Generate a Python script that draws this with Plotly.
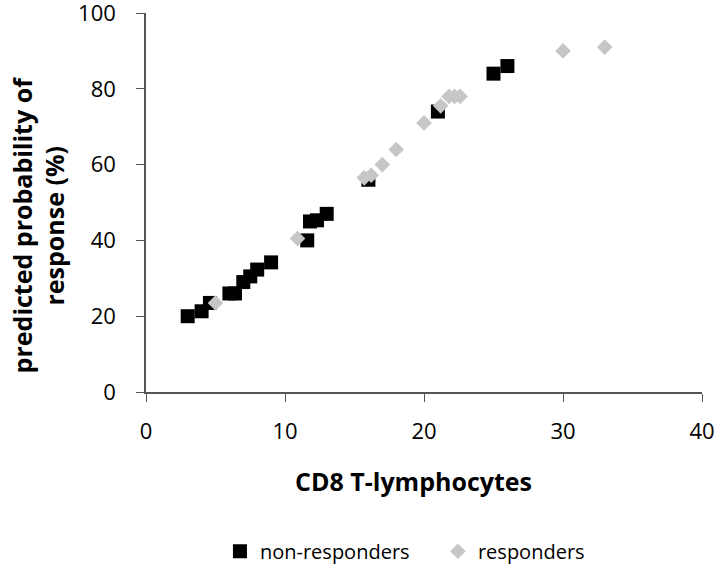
import plotly.graph_objects as go

# ── Data
nonresp_x = [3, 4, 4.6, 6, 6.4, 7, 7.5, 8, 9, 11.6, 11.8, 12.3, 13, 16, 21, 25, 26]
nonresp_y = [20, 21.3, 23.5, 26, 26, 29, 30.5, 32.3, 34.2, 40, 45, 45.3, 47, 56, 74, 84, 86]

resp_x = [5, 10.9, 15.7, 16.2, 17, 18, 20, 21.2, 21.8, 22.2, 22.6, 30, 33]
resp_y = [23.5, 40.5, 56.5, 57.2, 60, 64, 71, 75.5, 78, 78, 78, 90, 91]

FONT = 'Open Sans'
AXIS_COLOR = '#555555'

fig = go.Figure()
fig.add_trace(go.Scatter(
    x=nonresp_x, y=nonresp_y, mode='markers', name='non-responders',
    marker=dict(symbol='square', size=14, color='black'),
))
fig.add_trace(go.Scatter(
    x=resp_x, y=resp_y, mode='markers', name='responders',
    marker=dict(symbol='diamond', size=12, color='#c6c6c6'),
))

fig.update_layout(
    width=716, height=570,
    margin=dict(l=146, r=14, t=13, b=178),
    plot_bgcolor='white', paper_bgcolor='white',
    font=dict(family=FONT, size=22, color='black'),
    showlegend=True,
    legend=dict(
        orientation='h', x=0.133, xanchor='left',
        yref='container', y=0.033, yanchor='middle',
        font=dict(size=20), itemwidth=30, entrywidth=173,
    ),
)
fig.update_xaxes(
    range=[0, 40], dtick=10, showgrid=False, zeroline=False, automargin=False,
    showline=True, linecolor=AXIS_COLOR, linewidth=1.5,
    ticks='outside', ticklen=8, tickcolor=AXIS_COLOR, ticklabelstandoff=11,
    ticklabeloverflow='allow',
)
fig.update_yaxes(
    range=[0, 100], dtick=20, showgrid=False, zeroline=False, automargin=False,
    showline=True, linecolor=AXIS_COLOR, linewidth=1.5,
    ticks='outside', ticklen=8, tickcolor=AXIS_COLOR, ticklabelstandoff=16,
    ticklabeloverflow='allow',
)

# axis titles as annotations so they sit where the original puts them
fig.add_annotation(
    text='<b>CD8 T-lymphocytes</b>', xref='paper', yref='paper',
    x=0.482, y=-0.235, showarrow=False, font=dict(size=25),
    xanchor='center', yanchor='middle',
)
fig.add_annotation(
    text='<b>predicted probability of<br>response (%)</b>', xref='paper', yref='paper',
    x=-0.194, y=0.44, showarrow=False, font=dict(size=25), textangle=-90,
    xanchor='center', yanchor='middle',
)

# drop the default 8px body margin so the figure fills the window
fig.write_html(
    "out.html",
    config={'displayModeBar': False},
    post_script="document.body.style.margin='0';",
)
